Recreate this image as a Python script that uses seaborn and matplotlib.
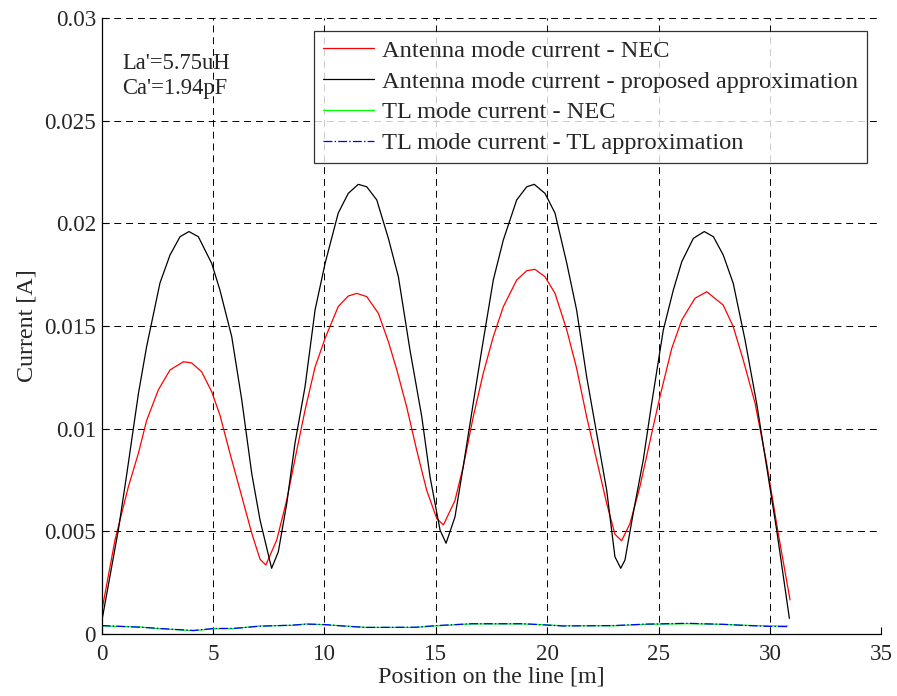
import matplotlib
matplotlib.use("Agg")
import matplotlib.pyplot as plt
import seaborn as sns
import pandas as pd

# ---- data ----
black_x = [0.03, 0.75, 1.13, 1.65, 2.02, 2.62, 3.07, 3.52, 3.92, 4.34, 4.94, 5.31, 5.84, 6.29, 6.74, 7.11,
           7.63, 7.93, 8.31, 8.68, 9.13, 9.58, 10.03, 10.62, 11.07, 11.52, 11.9, 12.35, 12.87, 13.32, 13.84,
           14.37, 14.74, 15.19, 15.46, 15.86, 16.23, 16.68, 17.06, 17.58, 18.03, 18.63, 19.08, 19.42, 19.9,
           20.35, 20.88, 21.32, 21.77, 22.22, 22.67, 23.04, 23.3, 23.49, 23.86, 24.31, 24.69, 25.21, 25.66,
           26.04, 26.56, 27.05, 27.46, 27.9, 28.35, 28.88, 29.4, 29.85, 30.3, 30.87]
black_y = [0.00076, 0.00506, 0.0078, 0.0117, 0.0140, 0.0171, 0.01846, 0.01935, 0.0196, 0.01935, 0.01805,
           0.01675, 0.01448, 0.0114, 0.0078, 0.00555, 0.0032, 0.00400, 0.00636, 0.0093, 0.01204, 0.01578,
           0.01805, 0.0205, 0.02146, 0.0219, 0.02178, 0.02114, 0.01927, 0.0174, 0.01383, 0.01058, 0.00766,
           0.00506, 0.00442, 0.0057, 0.00815, 0.01124, 0.01383, 0.01724, 0.01919, 0.02114, 0.02178, 0.0219,
           0.02146, 0.0205, 0.01805, 0.01578, 0.01253, 0.00977, 0.0070, 0.00376, 0.0032, 0.0036, 0.00588,
           0.00847, 0.01124, 0.0148, 0.01675, 0.01813, 0.01927, 0.0196, 0.01935, 0.01846, 0.01708, 0.01432,
           0.01124, 0.00815, 0.00506, 0.00076]

red_x = [0.03, 0.6, 1.2, 1.65, 2.02, 2.55, 3.07, 3.67, 4.04, 4.49, 4.94, 5.31, 5.76, 6.29, 6.74, 7.11, 7.37,
         7.86, 8.31, 8.68, 9.13, 9.58, 10.03, 10.62, 11.07, 11.45, 11.9, 12.42, 12.87, 13.25, 13.69, 14.14,
         14.59, 15.04, 15.34, 15.86, 16.23, 16.68, 17.13, 17.58, 18.03, 18.63, 19.08, 19.45, 19.9, 20.35,
         20.88, 21.32, 21.77, 22.22, 22.67, 23.04, 23.34, 23.72, 24.16, 24.69, 25.06, 25.59, 26.04, 26.63,
         27.16, 27.9, 28.35, 28.8, 29.33, 29.85, 30.37, 30.9]
red_y = [0.00125, 0.00458, 0.00717, 0.0088, 0.0104, 0.0119, 0.01286, 0.01326, 0.0132, 0.01277, 0.0118,
         0.01066, 0.0088, 0.0067, 0.0049, 0.00364, 0.00336, 0.00458, 0.00653, 0.00853, 0.0109, 0.0130,
         0.0144, 0.01595, 0.01646, 0.01659, 0.01643, 0.01562, 0.01424, 0.01286, 0.01107, 0.00896, 0.0070,
         0.00563, 0.00531, 0.0065, 0.00815, 0.01058, 0.0127, 0.01448, 0.01594, 0.01724, 0.01769, 0.01776,
         0.0174, 0.01659, 0.0148, 0.01294, 0.01058, 0.00847, 0.00636, 0.00486, 0.00454, 0.00539, 0.00717,
         0.00977, 0.01156, 0.01391, 0.01529, 0.01635, 0.01667, 0.01602, 0.01497, 0.01334, 0.01124, 0.00831,
         0.0049, 0.00166]

tl_x = [0, 1.75, 2.58, 4.12, 5.05, 5.9, 7.1, 8.55, 9.2, 10, 10.8, 11.85, 14.1, 15.05, 16.6, 18.9, 19.9,
        20.7, 23, 24.4, 26.3, 27.9, 29, 30, 30.8]
green_y = [0.00039, 0.00034, 0.00026, 0.00016, 0.00026, 0.00026, 0.00039, 0.00042, 0.00049, 0.00045,
           0.0004, 0.00032, 0.00032, 0.0004, 0.00049, 0.00049, 0.00045, 0.0004, 0.0004, 0.00047, 0.0005,
           0.00047, 0.00042, 0.00039, 0.00039]
blue_y = [0.00041, 0.00033, 0.00027, 0.00017, 0.00027, 0.00027, 0.00038, 0.00043, 0.00048, 0.00046,
          0.00039, 0.00032, 0.00033, 0.00041, 0.0005, 0.0005, 0.00044, 0.00039, 0.00041, 0.00048, 0.00052,
          0.00047, 0.00041, 0.00037, 0.00036]

labels = ["Antenna mode current - NEC",
          "Antenna mode current - proposed approximation",
          "TL mode current - NEC",
          "TL mode current - TL approximation"]
xticks = [0, 5, 10, 15, 20, 25, 30, 35]
yticks = [0, 0.005, 0.01, 0.015, 0.02, 0.025, 0.03]
ytick_labels = ["0", "0.005", "0.01", "0.015", "0.02", "0.025", "0.03"]

# ---- style ----
sns.set_style("white")
plt.rcParams['font.family'] = ['Liberation Serif', 'DejaVu Serif']
plt.rcParams['lines.scale_dashes'] = False
FS_TICK = 16.6
FS_LABEL = 17.3
FS_LEG = 17.6

fig = plt.figure(figsize=(8.97, 6.96), dpi=100)
ax = fig.add_axes([0.1133, 0.0891, 0.8693, 0.885])

series = [
    (red_x, red_y, labels[0], "#ff0000", "-"),
    (black_x, black_y, labels[1], "#000000", "-"),
    (tl_x, green_y, labels[2], "#00ff00", "-"),
    (tl_x, blue_y, labels[3], "#0000ff", "-."),
]
for xs, ys, lab, col, ls in series:
    df = pd.DataFrame({"x": xs, "y": ys})
    sns.lineplot(data=df, x="x", y="y", ax=ax, color=col, linestyle=ls, linewidth=0.9,
                 label=lab, sort=False, estimator=None)

ax.set_xlim(0, 35)
ax.set_ylim(0, 0.03)
ax.set_xticks(xticks)
ax.set_xticklabels([str(t) for t in xticks], fontsize=FS_TICK)
ax.set_yticks(yticks)
ax.set_yticklabels(ytick_labels, fontsize=FS_TICK)
ax.tick_params(direction="in", length=5, width=0.8, color="black",
               bottom=True, left=True, top=False, right=False)
ax.tick_params(axis="x", pad=7.5)
ax.tick_params(axis="y", pad=4)
ax.grid(True, color="black", linestyle=(0, (5, 3.5)), linewidth=0.7)
for s in ["top", "right"]:
    ax.spines[s].set_visible(False)
for s in ["left", "bottom"]:
    ax.spines[s].set_color("black")
    ax.spines[s].set_linewidth(0.9)

ax.set_xlabel("Position on the line [m]", fontsize=FS_LABEL, labelpad=1)
ax.set_ylabel("Current [A]", fontsize=FS_LABEL, labelpad=5)

ax.text(0.92, 0.0283, "La'=5.75uH\nCa'=1.94pF", fontsize=16.3, va="top", ha="left",
        linespacing=1.25)

leg = ax.legend(loc="upper right", bbox_to_anchor=(0.9815, 0.979), borderaxespad=0,
                fontsize=FS_LEG, frameon=True, fancybox=False, handlelength=2.1,
                handletextpad=0.35, labelspacing=0.36, borderpad=0.35)
leg.get_frame().set_edgecolor("black")
leg.get_frame().set_linewidth(0.9)

fig.savefig("out.png", dpi=100)
